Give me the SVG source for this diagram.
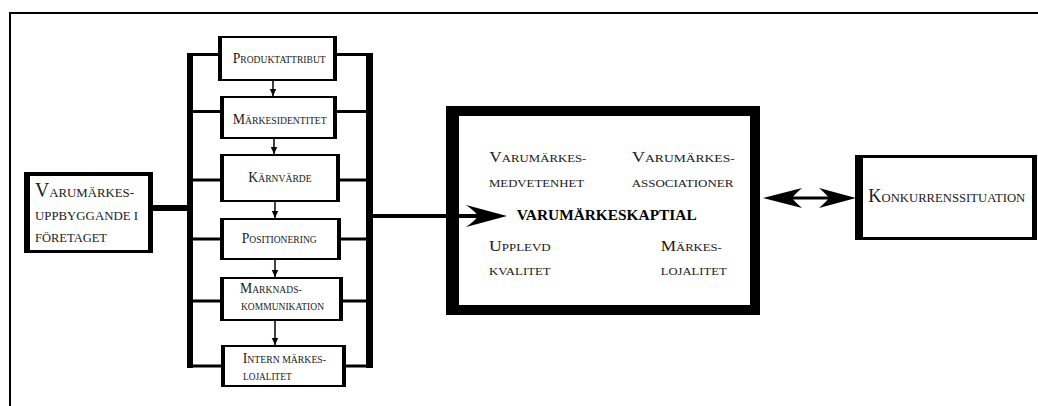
<svg xmlns="http://www.w3.org/2000/svg" width="1038" height="406" viewBox="0 0 1038 406">
<defs>
<style>
text{font-family:"Liberation Serif","Times New Roman",serif;fill:#1a1a1a}
.c15{font-size:15px}.c10{font-size:10.5px}
.l20{font-size:20px}.l13{font-size:13px}
.m15{font-size:15px}.m11{font-size:11px}
.k18{font-size:18px}.k12{font-size:12.5px}
.bold{font-size:15px;font-weight:bold;fill:#000}
.edge{fill:#000}
.inner{fill:#fff}
.thin{stroke:#000;stroke-width:1.5;fill:none}
</style>
<marker id="sa" markerUnits="userSpaceOnUse" markerWidth="8" markerHeight="8" refX="7" refY="4" orient="auto"><path d="M0,0.8 L7,4 L0,7.2 Z" fill="#000"/></marker>
</defs>
<rect width="1038" height="406" fill="#fff"/>
<g id="frame">
<rect x="9" y="12" width="1029" height="2" fill="#000"/>
<rect x="9" y="12" width="2" height="394" fill="#000"/>
</g>
<g id="n-foretaget">
<rect x="24" y="172" width="129" height="81" class="edge"/>
<rect x="30" y="176" width="118" height="74" class="inner"/>
<text x="35" y="196.7" textLength="99" lengthAdjust="spacingAndGlyphs"><tspan class="l20">V</tspan><tspan class="l13">ARUMÄRKES-</tspan></text>
<text x="35" y="220" class="l13" textLength="103" lengthAdjust="spacingAndGlyphs">UPPBYGGANDE I</text>
<text x="35" y="241.7" class="l13" textLength="72" lengthAdjust="spacingAndGlyphs">FÖRETAGET</text>
</g>
<g id="n-produkt">
<rect x="218" y="36" width="119" height="45" class="edge"/>
<rect x="222" y="38" width="111" height="41" class="inner"/>
<text x="232.7" y="63.3" textLength="93" lengthAdjust="spacingAndGlyphs"><tspan class="c15">P</tspan><tspan class="c10">RODUKTATTRIBUT</tspan></text>
</g>
<g id="n-markesidentitet">
<rect x="220" y="96" width="117" height="43" class="edge"/>
<rect x="224" y="98" width="109" height="39" class="inner"/>
<text x="232.7" y="124.3" textLength="94" lengthAdjust="spacingAndGlyphs"><tspan class="c15">M</tspan><tspan class="c10">ÄRKESIDENTITET</tspan></text>
</g>
<g id="n-karnvarde">
<rect x="220" y="154" width="120" height="48" class="edge"/>
<rect x="224" y="156" width="112" height="44" class="inner"/>
<text x="248.3" y="182.3" textLength="63.4" lengthAdjust="spacingAndGlyphs"><tspan class="c15">K</tspan><tspan class="c10">ÄRNVÄRDE</tspan></text>
</g>
<g id="n-positionering">
<rect x="220" y="218" width="121" height="42" class="edge"/>
<rect x="224" y="220" width="113" height="38" class="inner"/>
<text x="241.7" y="242.7" textLength="75" lengthAdjust="spacingAndGlyphs"><tspan class="c15">P</tspan><tspan class="c10">OSITIONERING</tspan></text>
</g>
<g id="n-marknad">
<rect x="220" y="277" width="123" height="44" class="edge"/>
<rect x="224" y="279" width="115" height="40" class="inner"/>
<text x="240" y="292.7" textLength="61.7" lengthAdjust="spacingAndGlyphs"><tspan class="c15">M</tspan><tspan class="c10">ARKNADS-</tspan></text>
<text x="241" y="310" class="c10" textLength="83" lengthAdjust="spacingAndGlyphs">KOMMUNIKATION</text>
</g>
<g id="n-intern">
<rect x="221" y="345" width="125" height="42" class="edge"/>
<rect x="225" y="347" width="117" height="38" class="inner"/>
<text x="242.7" y="363.3" textLength="83.3" lengthAdjust="spacingAndGlyphs"><tspan class="c15">I</tspan><tspan class="c10">NTERN MÄRKES-</tspan></text>
<text x="243" y="380" class="c10" textLength="48.7" lengthAdjust="spacingAndGlyphs">LOJALITET</text>
</g>
<g id="n-kapital">
<rect x="446" y="106" width="314" height="209" class="edge"/>
<rect x="459" y="116" width="291" height="189" class="inner"/>
<text x="489.3" y="161.7" textLength="97" lengthAdjust="spacingAndGlyphs"><tspan class="m15">V</tspan><tspan class="m11">ARUMÄRKES-</tspan></text>
<text x="489" y="187.3" class="m11" textLength="95" lengthAdjust="spacingAndGlyphs">MEDVETENHET</text>
<text x="631.7" y="161.7" textLength="103" lengthAdjust="spacingAndGlyphs"><tspan class="m15">V</tspan><tspan class="m11">ARUMÄRKES-</tspan></text>
<text x="631.7" y="187" class="m11" textLength="101.7" lengthAdjust="spacingAndGlyphs">ASSOCIATIONER</text>
<text x="516.7" y="220" class="bold" textLength="180" lengthAdjust="spacingAndGlyphs">VARUMÄRKESKAPTIAL</text>
<text x="489" y="250.7" textLength="61.7" lengthAdjust="spacingAndGlyphs"><tspan class="m15">U</tspan><tspan class="m11">PPLEVD</tspan></text>
<text x="489" y="275" class="m11" textLength="61.7" lengthAdjust="spacingAndGlyphs">KVALITET</text>
<text x="660.7" y="250.7" textLength="61" lengthAdjust="spacingAndGlyphs"><tspan class="m15">M</tspan><tspan class="m11">ÄRKES-</tspan></text>
<text x="660.7" y="275" class="m11" textLength="66" lengthAdjust="spacingAndGlyphs">LOJALITET</text>
</g>
<g id="n-konkurrens">
<rect x="855" y="155" width="182" height="85" class="edge"/>
<rect x="863" y="158" width="169" height="79" class="inner"/>
<text x="868.3" y="201.7" textLength="157" lengthAdjust="spacingAndGlyphs"><tspan class="k18">K</tspan><tspan class="k12">ONKURRENSSITUATION</tspan></text>
</g>
<g id="connectors">
<rect x="153" y="205" width="37" height="6" class="edge"/>
<rect x="187" y="53" width="6" height="315" class="edge"/>
<rect x="366" y="53" width="7" height="315" class="edge"/>
<rect x="187" y="53" width="33" height="3" class="edge"/>
<rect x="187" y="110" width="35" height="3" class="edge"/>
<rect x="187" y="178.5" width="35" height="3" class="edge"/>
<rect x="187" y="237.5" width="35" height="3" class="edge"/>
<rect x="187" y="299.5" width="35" height="3" class="edge"/>
<rect x="187" y="364.5" width="36" height="3" class="edge"/>
<rect x="335" y="53" width="38" height="3" class="edge"/>
<rect x="335" y="110" width="38" height="3" class="edge"/>
<rect x="338" y="178.5" width="35" height="3" class="edge"/>
<rect x="339" y="237.5" width="34" height="3" class="edge"/>
<rect x="341" y="299.5" width="32" height="3" class="edge"/>
<rect x="344" y="364.5" width="29" height="3" class="edge"/>
<line x1="273" y1="81" x2="273" y2="96" class="thin" marker-end="url(#sa)"/>
<line x1="274" y1="139" x2="274" y2="154" class="thin" marker-end="url(#sa)"/>
<line x1="275" y1="202" x2="275" y2="218" class="thin" marker-end="url(#sa)"/>
<line x1="275" y1="260" x2="275" y2="277" class="thin" marker-end="url(#sa)"/>
<line x1="275" y1="321" x2="275" y2="345" class="thin" marker-end="url(#sa)"/>
<rect x="373" y="214" width="105" height="4" class="edge"/>
<path d="M507,216 L466,205 Q476,212 478,216 Q476,220 466,227 Z" class="edge"/>
<rect x="790" y="196.5" width="40" height="3" class="edge"/>
<path d="M763,198 L802,188 Q794,195 792,198 Q794,201 802,208 Z" class="edge"/>
<path d="M856,198 L819,188 Q827,195 829,198 Q827,201 819,208 Z" class="edge"/>
</g>
</svg>
